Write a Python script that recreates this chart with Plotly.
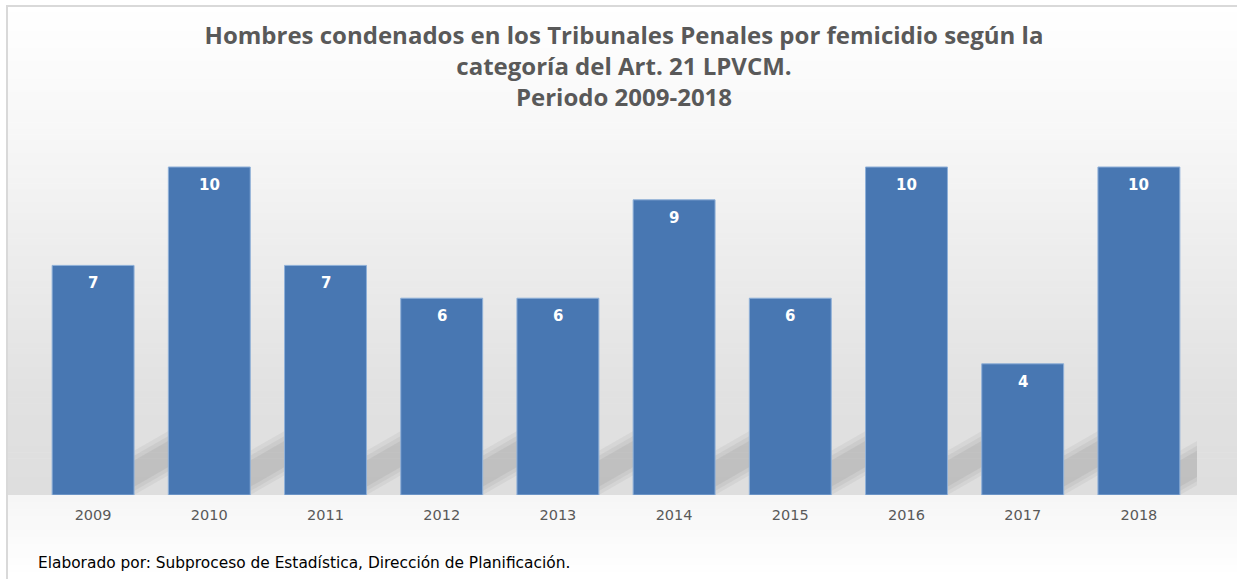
import plotly.graph_objects as go

# ---- data ----
years = ["2009", "2010", "2011", "2012", "2013", "2014", "2015", "2016", "2017", "2018"]
convicted = [7, 10, 7, 6, 6, 9, 6, 10, 4, 10]

title_lines = [
    "Hombres condenados en los Tribunales Penales por femicidio según la",
    "categoría del Art. 21 LPVCM.",
    "Periodo 2009-2018",
]
footer_text = "Elaborado por: Subproceso de Estadística, Dirección de Planificación."

# ---- layout geometry (pixels) ----
W, H = 1237, 579
ML, MR, MT, MB = 35, 40, 150, 84
PW, PH = W - ML - MR, H - MT - MB
PX_PER_UNIT = 32.8
BARGAP = 0.295


def px_x(x):
    return (x - ML) / PW


def px_y(y):
    return (H - MB - y) / PH


fig = go.Figure()
fig.add_trace(go.Bar(
    x=years,
    y=convicted,
    marker=dict(color="#4877b2", line=dict(color="#8fb0d8", width=1)),
    hoverinfo="x+y",
))

# value labels inside bar tops (x given as category index)
annotations = []
for i, v in enumerate(convicted):
    annotations.append(dict(
        x=i, y=v, xref="x", yref="y", text=str(v), showarrow=False,
        yshift=-18, font=dict(family="DejaVu Sans", size=15, color="white", weight="bold"),
    ))

annotations.append(dict(
    x=px_x(36), y=px_y(563), xref="paper", yref="paper", xanchor="left", yanchor="middle",
    text=footer_text, showarrow=False,
    font=dict(family="DejaVu Sans", size=15.4, color="#000000"),
))

# background gradient (style only)
shapes = []
stops = [(6, 255), (150, 246), (250, 237), (400, 225), (495, 222)]
n = 80
for i in range(n):
    y0 = 6 + (495 - 6) * i / n
    y1 = 6 + (495 - 6) * (i + 1) / n
    ym = (y0 + y1) / 2
    for (a, ca), (b, cb) in zip(stops[:-1], stops[1:]):
        if a <= ym <= b:
            c = ca + (cb - ca) * (ym - a) / (b - a)
            break
    c = int(round(c))
    shapes.append(dict(type="rect", xref="paper", yref="paper", layer="below",
                       x0=px_x(8), x1=px_x(W), y0=px_y(y1 + 0.5), y1=px_y(y0),
                       fillcolor=f"rgb({c},{c},{c})", line=dict(width=0)))
n2 = 12
for i in range(n2):
    y0 = 495 + (H - 495) * i / n2
    y1 = 495 + (H - 495) * (i + 1) / n2
    c = int(round(246 + (255 - 246) * (i + 0.5) / n2))
    shapes.append(dict(type="rect", xref="paper", yref="paper", layer="below",
                       x0=px_x(8), x1=px_x(W), y0=px_y(y1 + 0.5), y1=px_y(y0),
                       fillcolor=f"rgb({c},{c},{c})", line=dict(width=0)))

# soft diagonal floor shadows to the right of each bar (decoration)
half = (1 - BARGAP) / 2
gap = BARGAP
for i in range(len(years)):
    xa = i + half
    xb = min(i + half + gap + 0.02, len(years) - 0.5)
    for k, (lo, hi, op) in enumerate([(0.0, 1.35, 0.07), (0.12, 1.2, 0.08), (0.25, 1.05, 0.09)]):
        rise = 0.6 * (xb - xa) / gap
        path = (f"M {xa},{lo} L {xa},{hi} L {xb},{hi + rise} "
                f"L {xb},{lo + rise} Z")
        shapes.append(dict(type="path", xref="x", yref="y", layer="below", path=path,
                           fillcolor=f"rgba(90,90,90,{op})", line=dict(width=0)))

# outer border
shapes.append(dict(type="rect", xref="paper", yref="paper", layer="below",
                   x0=px_x(7), x1=px_x(W + 5), y0=px_y(H + 5), y1=px_y(6),
                   fillcolor="rgba(0,0,0,0)", line=dict(color="#d9d9d9", width=2)))

fig.update_layout(
    width=W, height=H,
    margin=dict(l=ML, r=MR, t=MT, b=MB, autoexpand=False),
    paper_bgcolor="white",
    plot_bgcolor="rgba(0,0,0,0)",
    bargap=BARGAP,
    showlegend=False,
    title=dict(
        text="<br>".join(title_lines),
        x=624 / W, xanchor="center", xref="container",
        y=1 - 44 / H, yanchor="top", yref="container",
        font=dict(family="Open Sans", size=24, color="#595959", weight="bold"),
    ),
    xaxis=dict(
        type="category", range=[-0.5, len(years) - 0.5],
        showgrid=False, showline=False, zeroline=False, ticks="",
        ticklabelstandoff=9,
        tickfont=dict(family="DejaVu Sans", size=14.5, color="#595959"),
    ),
    yaxis=dict(
        range=[0, PH / PX_PER_UNIT], showgrid=False, showline=False, zeroline=False,
        showticklabels=False, ticks="",
    ),
    annotations=annotations,
    shapes=shapes,
)

fig.write_html("out.html", config={"displayModeBar": False},
               post_script="document.body.style.margin='0';")
